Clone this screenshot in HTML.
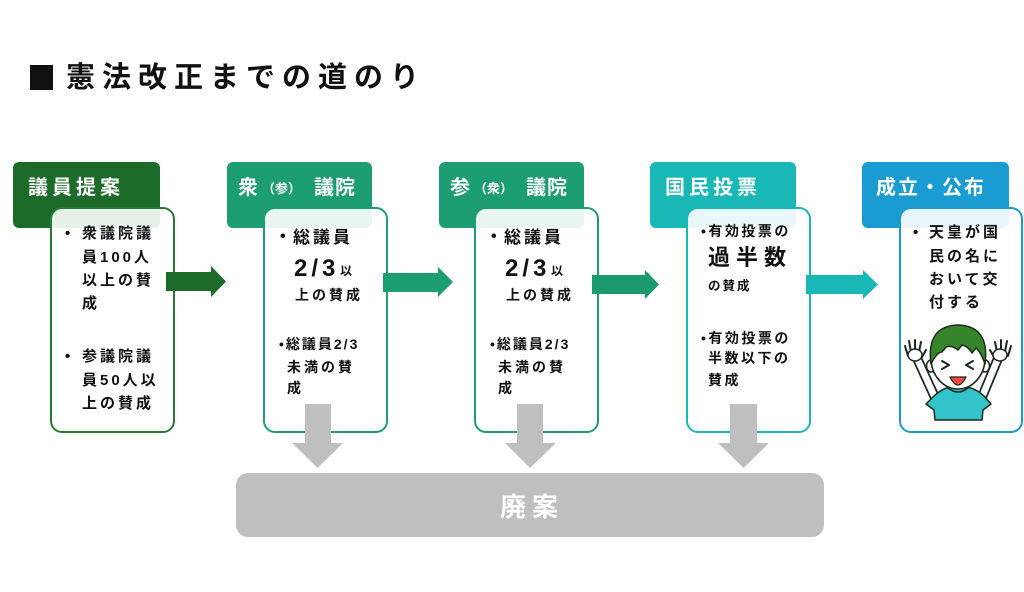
<!DOCTYPE html>
<html><head><meta charset="utf-8">
<style>
*{margin:0;padding:0;box-sizing:border-box}
html,body{width:1024px;height:592px;background:#fff;overflow:hidden}
#c{position:relative;width:1024px;height:592px}
.t{position:absolute;white-space:nowrap;font-family:"Liberation Sans","Noto Sans CJK JP",sans-serif;font-weight:700;line-height:1;color:#111}
.h{position:absolute;border-radius:6px}
.b{position:absolute;border-radius:12px;border:2.5px solid;background:rgba(255,255,255,0.9)}
.w{color:#fff}
svg{position:absolute;left:0;top:0}
</style></head><body><div id="c">

<div style="position:absolute;left:30px;top:65px;width:23px;height:25px;background:#111"></div>
<div class="t" style="left:66px;top:64px;font-size:29px;letter-spacing:7px;">憲法改正までの道のり</div>

<!-- headers -->
<div class="h" style="left:13px;top:162px;width:147px;height:66px;background:#1d6b28"></div>
<div class="h" style="left:227px;top:162px;width:145px;height:66px;background:#1c9d72"></div>
<div class="h" style="left:439px;top:162px;width:145px;height:66px;background:#1c9d72"></div>
<div class="h" style="left:650px;top:162px;width:146px;height:66px;background:#19b8b6"></div>
<div class="h" style="left:862px;top:162px;width:147px;height:66px;background:#1a9bd2"></div>

<div class="t w" style="left:28px;top:178px;font-size:20px;letter-spacing:4px;">議員提案</div>
<div class="t w" style="left:238px;top:178px;font-size:20px;">衆</div>
<div class="t w" style="left:262px;top:182px;font-size:13px;">（参）</div>
<div class="t w" style="left:314px;top:178px;font-size:20px;letter-spacing:1px;">議院</div>
<div class="t w" style="left:450px;top:178px;font-size:20px;">参</div>
<div class="t w" style="left:474px;top:182px;font-size:13px;">（衆）</div>
<div class="t w" style="left:526px;top:178px;font-size:20px;letter-spacing:1px;">議院</div>
<div class="t w" style="left:665px;top:178px;font-size:20px;letter-spacing:4px;">国民投票</div>
<div class="t w" style="left:876px;top:178px;font-size:20px;letter-spacing:2px;">成立・公布</div>

<!-- content boxes -->
<div class="b" style="left:50px;top:207px;width:125px;height:226px;border-color:#237a33"></div>
<div class="b" style="left:263px;top:207px;width:125px;height:226px;border-color:#1c9d72"></div>
<div class="b" style="left:474px;top:207px;width:125px;height:226px;border-color:#1c9d72"></div>
<div class="b" style="left:686px;top:207px;width:125px;height:226px;border-color:#19b8b6"></div>
<div class="b" style="left:899px;top:207px;width:124px;height:226px;border-color:#1a9bd2"></div>

<!-- box1 text -->
<div class="t" style="left:65px;top:226px;font-size:15px;">•</div>
<div class="t" style="left:82px;top:226px;font-size:15px;letter-spacing:3px;">衆議院議</div>
<div class="t" style="left:82px;top:250px;font-size:15px;letter-spacing:3px;">員100人</div>
<div class="t" style="left:82px;top:273px;font-size:15px;letter-spacing:3px;">以上の賛</div>
<div class="t" style="left:82px;top:296px;font-size:15px;letter-spacing:3px;">成</div>
<div class="t" style="left:65px;top:349px;font-size:15px;">•</div>
<div class="t" style="left:82px;top:349px;font-size:15px;letter-spacing:3px;">参議院議</div>
<div class="t" style="left:82px;top:373px;font-size:15px;letter-spacing:3px;">員50人以</div>
<div class="t" style="left:82px;top:396px;font-size:15px;letter-spacing:3px;">上の賛成</div>

<!-- box2 text -->
<div class="t" style="left:280px;top:229px;font-size:16px;">•</div>
<div class="t" style="left:293px;top:229px;font-size:17px;letter-spacing:3px;">総議員</div>
<div class="t" style="left:294px;top:257px;font-size:24px;letter-spacing:4px;">2/3</div>
<div class="t" style="left:340px;top:265px;font-size:12px;">以</div>
<div class="t" style="left:295px;top:288px;font-size:14px;letter-spacing:3px;">上の賛成</div>
<div class="t" style="left:279px;top:337px;font-size:14px;letter-spacing:2px;">•総議員2/3</div>
<div class="t" style="left:287px;top:360px;font-size:14px;letter-spacing:3px;">未満の賛</div>
<div class="t" style="left:287px;top:381px;font-size:14px;">成</div>

<!-- box3 text -->
<div class="t" style="left:491px;top:229px;font-size:16px;">•</div>
<div class="t" style="left:504px;top:229px;font-size:17px;letter-spacing:3px;">総議員</div>
<div class="t" style="left:505px;top:257px;font-size:24px;letter-spacing:4px;">2/3</div>
<div class="t" style="left:551px;top:265px;font-size:12px;">以</div>
<div class="t" style="left:506px;top:288px;font-size:14px;letter-spacing:3px;">上の賛成</div>
<div class="t" style="left:490px;top:337px;font-size:14px;letter-spacing:2px;">•総議員2/3</div>
<div class="t" style="left:498px;top:360px;font-size:14px;letter-spacing:3px;">未満の賛</div>
<div class="t" style="left:498px;top:381px;font-size:14px;">成</div>

<!-- box4 text -->
<div class="t" style="left:701px;top:224px;font-size:14px;letter-spacing:2.5px;">•有効投票の</div>
<div class="t" style="left:708px;top:247px;font-size:22px;letter-spacing:6px;">過半数</div>
<div class="t" style="left:708px;top:280px;font-size:12.5px;letter-spacing:2px;">の賛成</div>
<div class="t" style="left:701px;top:331px;font-size:14px;letter-spacing:2.5px;">•有効投票の</div>
<div class="t" style="left:708px;top:351px;font-size:14px;letter-spacing:2.5px;">半数以下の</div>
<div class="t" style="left:708px;top:373px;font-size:14px;letter-spacing:2.5px;">賛成</div>

<!-- box5 text -->
<div class="t" style="left:913px;top:225px;font-size:15px;">•</div>
<div class="t" style="left:929px;top:225px;font-size:15px;letter-spacing:3px;">天皇が国</div>
<div class="t" style="left:929px;top:249px;font-size:15px;letter-spacing:3px;">民の名に</div>
<div class="t" style="left:929px;top:272px;font-size:15px;letter-spacing:3px;">おいて交</div>
<div class="t" style="left:929px;top:295px;font-size:15px;letter-spacing:3px;">付する</div>

<!-- 廃案 bar -->
<div style="position:absolute;left:236px;top:473px;width:588px;height:64px;border-radius:12px;background:#bfbfbf"></div>
<div class="t w" style="left:500px;top:494px;font-size:26px;letter-spacing:6px;">廃案</div>

<svg width="1024" height="592" viewBox="0 0 1024 592">
  <!-- horizontal arrows -->
  <polygon points="166,272 211,272 211,266 226,281.5 211,297 211,291 166,291" fill="#1d6b28"/>
  <polygon points="383,273 438,273 438,267 453,282 438,297 438,292 383,292" fill="#1c9d72"/>
  <polygon points="592,275 645,275 645,270 659,284.5 645,299 645,294 592,294" fill="#1b9a6d"/>
  <polygon points="806,275 863,275 863,270 878,284.5 863,299 863,294 806,294" fill="#19b8b6"/>
  <!-- gray down arrows -->
  <polygon points="305,404 331,404 331,443 343,443 317.5,468 292,443 305,443" fill="#bfbfbf"/>
  <polygon points="517,404 543,404 543,443 556,443 530,468 505,443 517,443" fill="#bfbfbf"/>
  <polygon points="730,404 757,404 757,443 769,443 743.5,468 718,443 730,443" fill="#bfbfbf"/>

  <!-- boy illustration -->
  <g stroke-linecap="round" stroke-linejoin="round">
    <!-- arms -->
    <line x1="937" y1="402" x2="916" y2="356" stroke="#1a2a1a" stroke-width="10"/>
    <line x1="937" y1="402" x2="916" y2="356" stroke="#fff" stroke-width="6.5"/>
    <line x1="980" y1="402" x2="999" y2="356" stroke="#1a2a1a" stroke-width="10"/>
    <line x1="980" y1="402" x2="999" y2="356" stroke="#fff" stroke-width="6.5"/>
    <!-- hands -->
    <path d="M908,356 L905,346 M911,352 L909,341 M915,351 L915,340 M919,352 L921,342 M922,357 L926,350" stroke="#1a2a1a" stroke-width="2" fill="none"/>
    <ellipse cx="915" cy="355" rx="7" ry="6" fill="#fff" stroke="#1a2a1a" stroke-width="1.5"/>
    <path d="M994,357 L990,350 M997,352 L995,342 M1001,351 L1001,340 M1005,352 L1007,341 M1008,356 L1011,346" stroke="#1a2a1a" stroke-width="2" fill="none"/>
    <ellipse cx="1000" cy="355" rx="7" ry="6" fill="#fff" stroke="#1a2a1a" stroke-width="1.5"/>
    <!-- shirt -->
    <path d="M934,396 Q944,387 952,387 L964,387 Q974,387 984,396 L991,404 L983,410 L982,420 L935,420 L934,410 L926,404 Z" fill="#33c3cb" stroke="#1a2a1a" stroke-width="1.5"/>
    <path d="M948,388 Q958,396 968,388" fill="none" stroke="#1a2a1a" stroke-width="1.5"/>
    <!-- ears -->
    <ellipse cx="931" cy="366" rx="4.5" ry="6" fill="#fff" stroke="#1a2a1a" stroke-width="1.5"/>
    <ellipse cx="985" cy="366" rx="4.5" ry="6" fill="#fff" stroke="#1a2a1a" stroke-width="1.5"/>
    <!-- head -->
    <ellipse cx="958" cy="358" rx="27" ry="31" fill="#fff" stroke="#1a2a1a" stroke-width="1.6"/>
    <!-- hair -->
    <path d="M931,364 Q926,326 958,325 Q990,326 985,364 Q981,352 976,348 L972,353 Q968,346 962,345 L958,350 Q952,345 946,347 L942,352 Q937,352 931,364 Z" fill="#36852a" stroke="#1a2a1a" stroke-width="1.5"/>
    <!-- eyes -->
    <polyline points="942,361 949,365 942,369" fill="none" stroke="#1a2a1a" stroke-width="2"/>
    <polyline points="973,361 966,365 973,369" fill="none" stroke="#1a2a1a" stroke-width="2"/>
    <!-- mouth -->
    <path d="M950,377 Q958,393 966,377 Z" fill="#f04a3a" stroke="#1a2a1a" stroke-width="1.3"/>
  </g>
</svg>

</div></body></html>
